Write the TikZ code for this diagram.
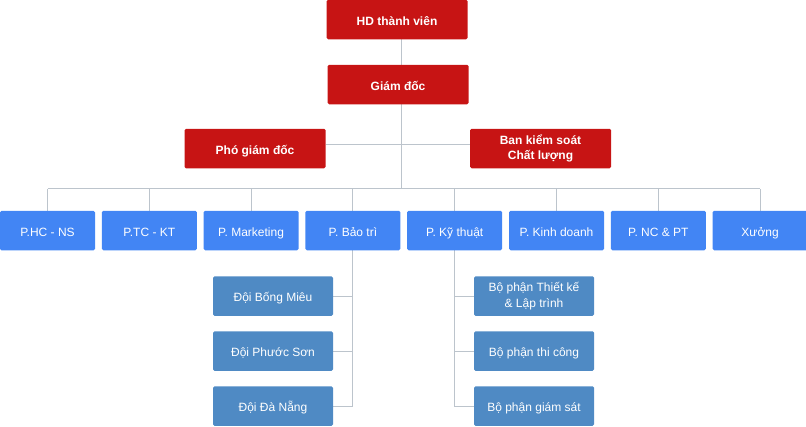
\documentclass[tikz,border=0pt]{standalone}
\usepackage{fontspec}
\setmainfont{Liberation Sans}
\usetikzlibrary{positioning, backgrounds}
\definecolor{hdred}{HTML}{C71414}
\definecolor{deptblue}{HTML}{4285F4}
\definecolor{teamblue}{HTML}{4F8AC4}
\definecolor{linkgray}{HTML}{BCC4CC}
\tikzstyle{line} = [draw=linkgray, line width=1pt]
\tikzstyle{box} = [rectangle, text=white, rounded corners=1.5pt, minimum height=39.5pt, inner sep=0pt, align=center, font=\fontsize{12}{15.5}\selectfont]
\tikzstyle{oneline} = [text height=13pt, text depth=1.8pt]
\tikzstyle{boss} = [box, fill=hdred, minimum width=141pt, font=\fontsize{12}{15.5}\selectfont\bfseries]
\tikzstyle{dept} = [box, oneline, fill=deptblue, minimum width=95pt, node distance=101.8pt]
\tikzstyle{team} = [box, fill=teamblue, minimum width=120pt, node distance=55pt]

\begin{document}
\begin{tikzpicture}
	\useasboundingbox (0,0) rectangle (806pt,-426pt);
	
	\node [boss, oneline] (hd) at (397pt,-19.5pt) {HD thành viên};
	\node [boss, oneline, below of=hd, node distance=65pt, xshift=1pt] (gd) {Giám đốc};
	\node [boss, oneline] (pho) at (255pt,-148.5pt) {Phó giám đốc};
	\node [boss] (ban) at (540.5pt,-148.5pt) {Ban kiểm soát\\Chất lượng};
	
	\coordinate (hub) at (401pt,-144pt);
	\coordinate (bus) at (401pt,-188.5pt);
	
	\node [dept] (phcns) at (47.5pt,-230.5pt) {P.HC - NS};
	\node [dept, right of=phcns] (ptckt) {P.TC - KT};
	\node [dept, right of=ptckt] (pmkt) {P. Marketing};
	\node [dept, right of=pmkt] (pbaotri) {P. Bảo trì};
	\node [dept, right of=pbaotri] (pkythuat) {P. Kỹ thuật};
	\node [dept, right of=pkythuat] (pkd) {P. Kinh doanh};
	\node [dept, right of=pkd] (pncpt) {P. NC \& PT};
	\node [dept, right of=pncpt] (xuong) {Xưởng};
	
	\node [team, oneline] (bongmieu) at (273pt,-296pt) {Đội Bống Miêu};
	\node [team, oneline, below of=bongmieu] (phuocson) {Đội Phước Sơn};
	\node [team, oneline, below of=phuocson] (danang) {Đội Đà Nẵng};
	
	\node [team] (thietke) at (534pt,-296pt) {Bộ phận Thiết kế\\\& Lập trình};
	\node [team, oneline, below of=thietke] (thicong) {Bộ phận thi công};
	\node [team, oneline, below of=thicong] (giamsat) {Bộ phận giám sát};
	
	\begin{scope}[on background layer]
	% trunk and branches
	\path [line] (hd.south -| hub) -- (bus);
	\path [line] (pho.east |- hub) -- (ban.west |- hub);
	\path [line] (phcns.north |- bus) -- (xuong.north |- bus);
	\foreach \d in {phcns, ptckt, pmkt, pbaotri, pkythuat, pkd, pncpt, xuong}
		\path [line] (\d.north) -- (\d.north |- bus);
	
	% teams
	\path [line] (pbaotri.south) |- (danang.east);
	\path [line] (bongmieu.east) -- (bongmieu.east -| pbaotri.south);
	\path [line] (phuocson.east) -- (phuocson.east -| pbaotri.south);
	\path [line] (pkythuat.south) |- (giamsat.west);
	\path [line] (thietke.west) -- (thietke.west -| pkythuat.south);
	\path [line] (thicong.west) -- (thicong.west -| pkythuat.south);
	\end{scope}
\end{tikzpicture}
\end{document}
